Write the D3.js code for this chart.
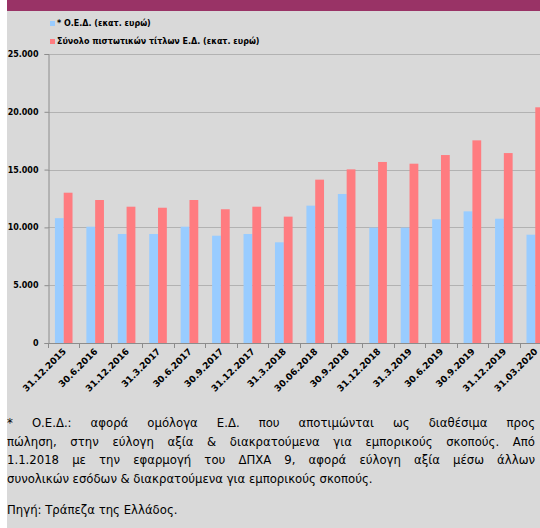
<!DOCTYPE html>
<html>
<head>
<meta charset="utf-8">
<script src="https://cdn.jsdelivr.net/npm/d3@7"></script>
<style>
    html, body { margin: 0; padding: 0; background: #fff; }
    svg { display: block; }
</style>
</head>
<body>
<svg id="chart" width="540" height="528"></svg>
<script>
// periods on the x axis
var categories = ['31.12.2015', '30.6.2016', '31.12.2016', '31.3.2017', '30.6.2017', '30.9.2017',
    '31.12.2017', '31.3.2018', '30.06.2018', '30.9.2018', '31.12.2018', '31.3.2019',
    '30.6.2019', '30.9.2019', '31.12.2019', '31.03.2020'];

// * Ο.Ε.Δ. (εκατ. ευρώ)
var oedValues = [10800, 10060, 9430, 9430, 10060, 9280, 9430, 8710, 11880, 12890, 9980, 9980, 10700, 11390, 10750, 9370];
// Σύνολο πιστωτικών τίτλων Ε.Δ. (εκατ. ευρώ)
var totalValues = [13000, 12370, 11790, 11700, 12370, 11570, 11790, 10930, 14130, 15020, 15660, 15510, 16260, 17530, 16430, 20390];

var seriesNames = ['* Ο.Ε.Δ. (εκατ. ευρώ)', 'Σύνολο πιστωτικών τίτλων Ε.Δ. (εκατ. ευρώ)'];
var seriesColors = ['#99ccff', '#ff7c80'];
var yTicks = [0, 5000, 10000, 15000, 20000, 25000];

var notes = [
    '* Ο.Ε.Δ.: αφορά ομόλογα Ε.Δ. που αποτιμώνται ως διαθέσιμα προς',
    'πώληση, στην εύλογη αξία & διακρατούμενα για εμπορικούς σκοπούς. Από',
    '1.1.2018 με την εφαρμογή του ΔΠΧΑ 9, αφορά εύλογη αξία μέσω άλλων',
    'συνολικών εσόδων & διακρατούμενα για εμπορικούς σκοπούς.'
];
var source = 'Πηγή: Τράπεζα της Ελλάδος.';

var svg = d3.select('#chart');
var labelFont = '"DejaVu Sans", Verdana, sans-serif';
var noteFont = '"DejaVu Sans Condensed", "DejaVu Sans", sans-serif';

// background: white strip on the left, grey panel, magenta header band
svg.append('rect').attr('x', 7).attr('y', 0).attr('width', 533).attr('height', 528).attr('fill', '#d9d9d9');
svg.append('rect').attr('x', 7).attr('y', 0).attr('width', 533).attr('height', 11).attr('fill', '#993366');

var x = d3.scaleBand()
    .domain(categories)
    .range([48, 551])
    .paddingInner(0.44)
    .paddingOuter(0.22);

var xSeries = d3.scaleBand()
    .domain([0, 1])
    .range([0, x.bandwidth()]);

var y = d3.scaleLinear()
    .domain([0, 25000])
    .range([343, 54]);

var fmt = d3.formatLocale({ decimal: ',', thousands: '.', grouping: [3], currency: ['', ''] }).format(',');

// gridlines
svg.append('g')
    .selectAll('line')
    .data(yTicks.filter(d => d > 0))
    .join('line')
    .attr('x1', 48).attr('x2', 551)
    .attr('y1', d => Math.round(y(d)) + 0.5)
    .attr('y2', d => Math.round(y(d)) + 0.5)
    .attr('stroke', '#b2b2b2')
    .attr('stroke-width', 1);

// bars
var data = categories.map((c, i) => ({ cat: c, values: [oedValues[i], totalValues[i]] }));

svg.append('g')
    .selectAll('g')
    .data(data)
    .join('g')
    .attr('transform', d => 'translate(' + x(d.cat) + ',0)')
    .selectAll('rect')
    .data(d => d.values.map((v, k) => ({ k: k, v: v })))
    .join('rect')
    .attr('x', d => xSeries(d.k))
    .attr('width', xSeries.bandwidth())
    .attr('y', d => y(d.v))
    .attr('height', d => y(0) - y(d.v))
    .attr('fill', d => seriesColors[d.k]);

// y axis
var yAxis = svg.append('g')
    .attr('transform', 'translate(48.5,0)')
    .call(d3.axisLeft(y).tickValues(yTicks).tickFormat(fmt).tickSize(4).tickPadding(6));
yAxis.select('.domain').attr('stroke', '#8c8c8c');
yAxis.selectAll('.tick line').attr('stroke', '#8c8c8c');
yAxis.selectAll('.tick text')
    .attr('fill', '#000')
    .style('font-family', labelFont)
    .style('font-weight', 'bold')
    .style('font-size', '8px');

// x axis: ticks at band boundaries
var xg = svg.append('g');
xg.append('line')
    .attr('x1', 48).attr('x2', 551)
    .attr('y1', 343.5).attr('y2', 343.5)
    .attr('stroke', '#8c8c8c');
xg.selectAll('line.tick')
    .data(categories)
    .join('line')
    .attr('class', 'tick')
    .attr('x1', d => Math.round(x(d) - x.step() * x.paddingOuter()) + 0.5)
    .attr('x2', d => Math.round(x(d) - x.step() * x.paddingOuter()) + 0.5)
    .attr('y1', 343).attr('y2', 348)
    .attr('stroke', '#8c8c8c');
xg.selectAll('text')
    .data(categories)
    .join('text')
    .attr('transform', d => 'translate(' + (x(d) + x.bandwidth() / 2 + 3) + ',352) rotate(-45)')
    .attr('text-anchor', 'end')
    .style('font-family', labelFont)
    .style('font-weight', 'bold')
    .style('font-size', '9px')
    .text(d => d);

// legend
var legend = svg.append('g');
seriesNames.forEach(function (name, i) {
    var ly = 26 + i * 18;
    legend.append('rect')
        .attr('x', 50).attr('y', ly - 5)
        .attr('width', 5).attr('height', 5)
        .attr('fill', seriesColors[i]);
    legend.append('text')
        .attr('x', 57).attr('y', ly)
        .style('font-family', labelFont)
        .style('font-weight', 'bold')
        .style('font-size', '8px')
        .text(name);
});

// footnote: first three lines justified by spreading the words
var noteY = [427, 446, 464, 483];
var noteLeft = 7, noteRight = 535;
notes.forEach(function (line, i) {
    var words = line.split(' ');
    var g = svg.append('g');
    var nodes = words.map(w => g.append('text')
        .attr('y', noteY[i])
        .style('font-family', noteFont)
        .style('font-size', '13px')
        .text(w));
    var widths = nodes.map(n => n.node().getComputedTextLength());
    var space = 3.6;
    if (i < 3) {
        var total = d3.sum(widths);
        space = (noteRight - noteLeft - total) / (words.length - 1);
    }
    var cx = noteLeft;
    nodes.forEach(function (n, k) {
        n.attr('x', cx);
        cx += widths[k] + space;
    });
});
svg.append('text')
    .attr('x', noteLeft).attr('y', 514)
    .style('font-family', noteFont)
    .style('font-size', '13px')
    .text(source);
</script>
</body>
</html>
